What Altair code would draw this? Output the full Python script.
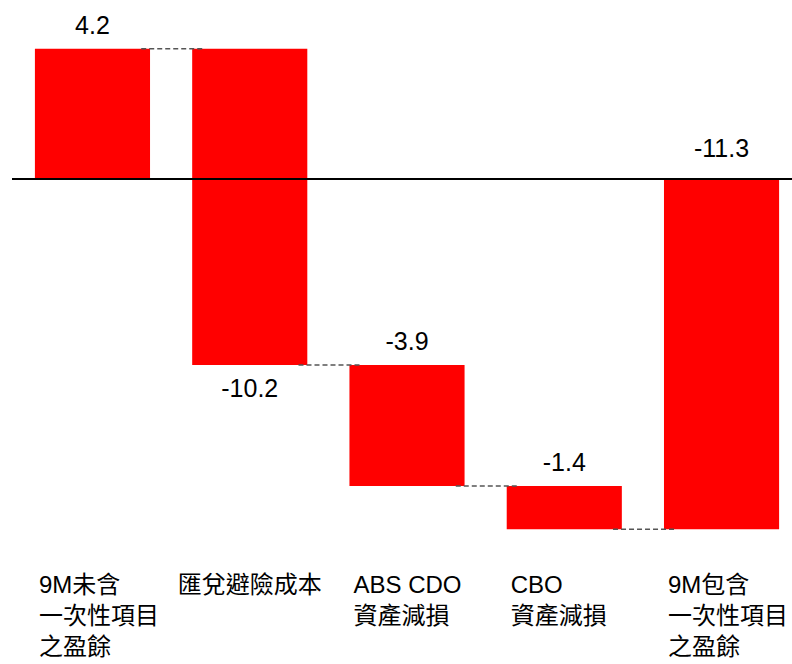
import altair as alt
import pandas as pd

categories = ["9M未含\n一次性項目\n之盈餘", "匯兌避險成本", "ABS CDO\n資產減損", "CBO\n資產減損", "9M包含\n一次性項目\n之盈餘"]
values = [4.2, -10.2, -3.9, -1.4, -11.3]
is_total = [False, False, False, False, True]
value_labels = ["4.2", "-10.2", "-3.9", "-1.4", "-11.3"]

rows = []
running = 0.0
for i, (c, v, t, lab) in enumerate(zip(categories, values, is_total, value_labels)):
    if t:
        start, end = 0.0, v
    else:
        start, end = running, running + v
    running = end
    rows.append({"idx": i, "cat": c, "value": v, "start": start, "end": end,
                 "top": max(start, end), "bottom": min(start, end), "label": lab,
                 "last": i == len(categories) - 1})
df = pd.DataFrame(rows)

W, H = 792, 664
FONT = "Liberation Sans, Noto Sans CJK TC, sans-serif"

xs = alt.Scale(domain=[-0.588, 4.448], nice=False, zero=False)
ys = alt.Scale(domain=[-15.645, 5.774], nice=False, zero=False)

base = alt.Chart(df)

bars = base.transform_calculate(
    bx="datum.idx - 0.366", bx2="datum.idx + 0.366"
).mark_rect(color="#FF0000").encode(
    x=alt.X("bx:Q", scale=xs, axis=None),
    x2="bx2:Q",
    y=alt.Y("start:Q", scale=ys, axis=None),
    y2="end:Q",
)

connectors = base.transform_filter("!datum.last").transform_calculate(
    cx="datum.idx + 0.31", cx2="datum.idx + 0.71"
).mark_rule(color="#555555", strokeWidth=1.5, strokeDash=[5, 3]).encode(
    x=alt.X("cx:Q", scale=xs, axis=None),
    x2="cx2:Q",
    y=alt.Y("end:Q", scale=ys, axis=None),
)

zero_line = alt.Chart(pd.DataFrame({"z": [0.0]})).mark_rule(
    color="#000000", strokeWidth=2
).encode(
    x=alt.value(12), x2=alt.value(W),
    y=alt.Y("z:Q", scale=ys, axis=None),
)

val_above = base.transform_filter("datum.idx == 0 || datum.idx == 2 || datum.idx == 3").mark_text(
    font=FONT, fontSize=25, color="#000000", baseline="alphabetic", align="center", dy=-15
).encode(
    x=alt.X("idx:Q", scale=xs, axis=None),
    y=alt.Y("top:Q", scale=ys, axis=None),
    text="label:N",
)

val_total = base.transform_filter("datum.idx == 4").mark_text(
    font=FONT, fontSize=25, color="#000000", baseline="alphabetic", align="center", dy=-22
).encode(
    x=alt.X("idx:Q", scale=xs, axis=None),
    y=alt.Y("top:Q", scale=ys, axis=None),
    text="label:N",
)

val_below = base.transform_filter("datum.idx == 1").mark_text(
    font=FONT, fontSize=25, color="#000000", baseline="top", align="center", dy=12
).encode(
    x=alt.X("idx:Q", scale=xs, axis=None),
    y=alt.Y("bottom:Q", scale=ys, axis=None),
    text="label:N",
)

cat_left = base.transform_filter("datum.idx != 1").transform_calculate(
    lx="datum.idx - 0.366"
).mark_text(
    font=FONT, fontSize=24, color="#000000", baseline="top", align="left",
    dx=4, lineBreak="\n", lineHeight=31
).encode(
    x=alt.X("lx:Q", scale=xs, axis=None),
    y=alt.value(574),
    text="cat:N",
)

cat_center = base.transform_filter("datum.idx == 1").mark_text(
    font=FONT, fontSize=24, color="#000000", baseline="top", align="center",
    lineBreak="\n", lineHeight=31
).encode(
    x=alt.X("idx:Q", scale=xs, axis=None),
    y=alt.value(574),
    text="cat:N",
)

chart = alt.layer(
    bars, connectors, zero_line, val_above, val_total, val_below, cat_left, cat_center
).properties(
    width=W, height=H, padding=0, autosize=alt.AutoSizeParams(type="none"),
    background="#FFFFFF",
).configure_view(stroke=None)

chart.save("out.html", embed_options={"renderer": "svg", "actions": False})
